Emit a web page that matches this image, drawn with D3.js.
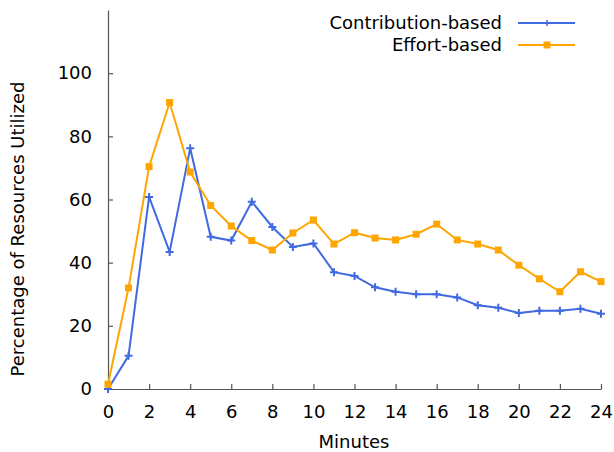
<!DOCTYPE html>
<html><head><meta charset="utf-8">
<script src="https://cdn.jsdelivr.net/npm/d3@7"></script>
<style>body{margin:0;background:#fff}svg{display:block}text{font-family:"DejaVu Sans",sans-serif;fill:#000}</style>
</head><body><svg id="c" width="614" height="452"></svg>
<script>
const minutes = d3.range(0, 25);
const contribution = [0, 10.5, 60.8, 43.4, 76.2, 48.2, 47, 59.3, 51.3, 45, 46.1, 37, 35.8, 32.2, 30.8, 30, 30, 29, 26.5, 25.7, 24.1, 24.8, 24.8, 25.4, 23.8];
const effort = [1.5, 32, 70.4, 90.7, 68.7, 58.1, 51.6, 47, 44, 49.4, 53.5, 45.9, 49.5, 47.8, 47.2, 49, 52.2, 47.2, 45.9, 44, 39.2, 34.9, 30.8, 37.1, 34];
const xTicks = d3.range(0, 25, 2);
const yTicks = [0, 20, 40, 60, 80, 100];
const seriesNames = ["Contribution-based", "Effort-based"];
const colors = ["#4169E1", "#FFA500"];

const svg = d3.select("#c");
const x = d3.scaleLinear().domain([0, 24]).range([108, 601]);
const y = d3.scaleLinear().domain([0, 120]).range([389, 10]);

const ax = svg.append("g").attr("transform", "translate(0,389)")
  .call(d3.axisBottom(x).tickValues(xTicks).tickSizeInner(-5).tickSizeOuter(0).tickPadding(10));
const ay = svg.append("g").attr("transform", "translate(108,0)")
  .call(d3.axisLeft(y).tickValues(yTicks).tickSizeInner(-5).tickSizeOuter(0).tickPadding(16));
[ax, ay].forEach(g => {
  g.selectAll("path.domain").attr("stroke", "#555").attr("stroke-width", 1.2);
  g.selectAll(".tick line").attr("stroke", "#555").attr("stroke-width", 1.2);
  g.selectAll(".tick text").style("font-size", "18px").style("font-family", "DejaVu Sans").attr("fill", "#000");
});
ax.selectAll(".tick text").attr("y", 29).attr("dy", 0);

svg.append("text").attr("x", 354).attr("y", 448).attr("text-anchor", "middle")
  .style("font-size", "18px").text("Minutes");
svg.append("text").attr("transform", "translate(24,229) rotate(-90)").attr("text-anchor", "middle")
  .style("font-size", "18px").text("Percentage of Resources Utilized");

const line = d3.line().x((d, i) => x(minutes[i])).y(d => y(d));
const data = [contribution, effort];
data.forEach((vals, k) => {
  svg.append("path").attr("d", line(vals)).attr("fill", "none")
    .attr("stroke", colors[k]).attr("stroke-width", 2);
});
// plus markers
svg.append("g").selectAll("path").data(contribution).join("path")
  .attr("d", (d, i) => { const cx = x(minutes[i]), cy = y(d); return `M${cx-4},${cy}H${cx+4}M${cx},${cy-4}V${cy+4}`; })
  .attr("stroke", colors[0]).attr("stroke-width", 2);
svg.append("g").selectAll("rect").data(effort).join("rect")
  .attr("x", (d, i) => x(minutes[i]) - 3.5).attr("y", d => y(d) - 3.5)
  .attr("width", 7).attr("height", 7).attr("fill", colors[1]);

// legend
const lg = svg.append("g");
seriesNames.forEach((n, k) => {
  const ly = 23 + k * 22;
  lg.append("text").attr("x", 502).attr("y", ly).attr("dy", "0.35em").attr("text-anchor", "end")
    .style("font-size", "18px").text(n);
  lg.append("line").attr("x1", 518).attr("x2", 575).attr("y1", ly).attr("y2", ly)
    .attr("stroke", colors[k]).attr("stroke-width", 2);
  if (k === 0) {
    lg.append("path").attr("d", `M543,${ly}H551M547,${ly-3}V${ly+3}`).attr("stroke", colors[0]).attr("stroke-width", 1.5);
  } else {
    lg.append("rect").attr("x", 543.5).attr("y", ly - 3.5).attr("width", 7).attr("height", 7).attr("fill", colors[1]);
  }
});
</script></body></html>
